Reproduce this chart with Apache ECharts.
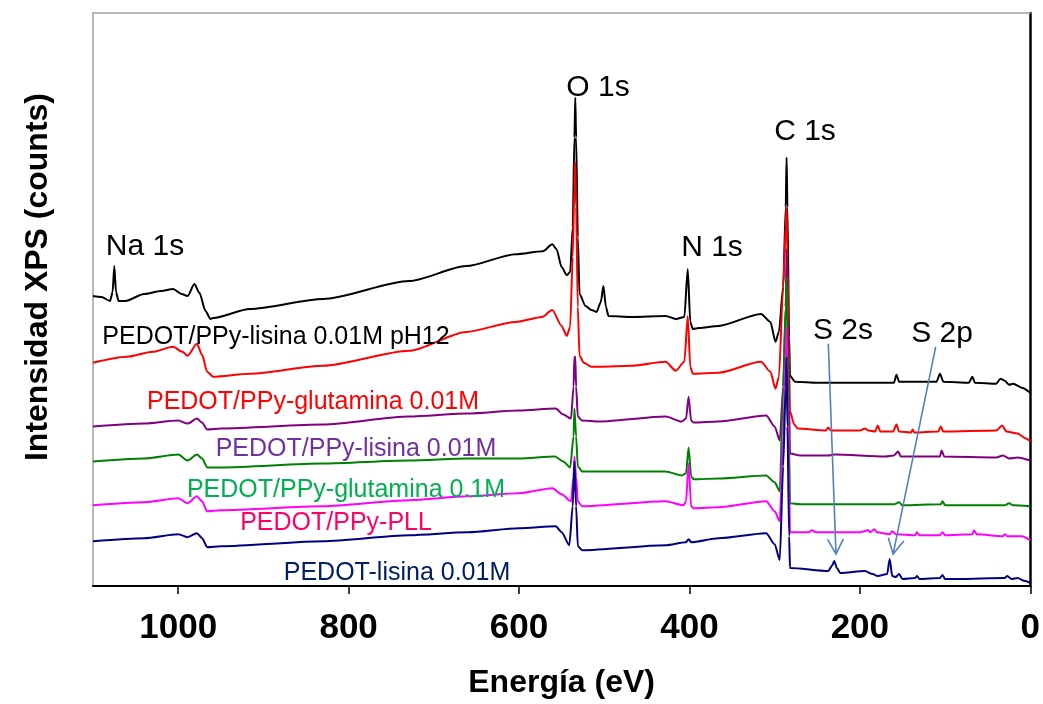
<!DOCTYPE html>
<html>
<head>
<meta charset="utf-8">
<title>XPS survey spectra</title>
<script src="https://cdn.jsdelivr.net/npm/echarts@6/dist/echarts.min.js"></script>
<style>
  html, body { margin: 0; padding: 0; background: #fff; }
  #chart { width: 1043px; height: 704px; }
</style>
</head>
<body>
<div id="chart"></div>
<script>
// Binding energy ticks (eV)
const energyTicks = [0, 200, 400, 600, 800, 1000];

// Survey spectra: [binding energy (eV), intensity (kcounts, stacked offset)]
const pedotPpyLisinaPh12 = [
  [1100, 29.1], [1090, 29.0], [1080, 28.6], [1077, 29.5], [1075, 32.1], [1073, 29.5], [1070, 28.6],
  [1062, 28.6], [1040, 29.3], [1020, 29.6], [1006, 29.8], [996, 29.3], [989, 29.1], [981, 30.3],
  [975, 29.4], [968, 27.6], [962, 26.8], [959, 26.9], [916, 27.8], [830, 28.8], [729, 30.6],
  [662, 32.1], [604, 33.3], [572, 33.6], [561, 34.3], [556, 33.8], [550, 32.0], [544, 31.2],
  [540, 31.5], [537, 36.0], [535, 45.0], [534, 49.0], [533, 45.0], [531, 35.0], [529, 29.3],
  [522, 28.1], [515, 27.7], [509, 27.5], [504, 28.5], [501, 30.1], [498, 28.0], [495, 27.1],
  [468, 27.0], [428, 27.1], [416, 26.8], [406, 27.0], [402, 31.8], [399, 26.5], [396, 25.8],
  [389, 25.9], [366, 26.1], [316, 27.3], [305, 26.5], [299, 24.5], [295, 25.5], [290, 30.0],
  [287, 38.0], [286, 43.0], [285, 38.0], [283, 25.0], [282, 21.1], [276, 20.5], [250, 20.4],
  [200, 20.4], [160, 20.4], [157, 21.2], [154, 20.5], [110, 20.5], [106, 21.3], [102, 20.5],
  [72, 20.4], [68, 21.0], [65, 20.4], [40, 20.3], [35, 20.8], [30, 20.6], [25, 20.2],
  [20, 20.3], [10, 19.9], [0, 19.4]
];
const pedotPpyGlutamina001 = [
  [1100, 22.4], [1060, 23.0], [1030, 23.5], [1006, 24.0], [995, 23.5], [989, 23.1], [978, 24.3],
  [972, 23.2], [966, 21.5], [959, 21.0], [916, 21.3], [830, 22.1], [729, 23.6], [662, 25.5],
  [604, 26.5], [573, 27.0], [561, 27.7], [550, 26.1], [544, 25.1], [540, 26.0], [537, 33.0],
  [535, 40.0], [534, 42.5], [533, 38.0], [531, 28.0], [529, 23.1], [524, 22.4], [515, 22.0],
  [506, 22.0], [468, 22.1], [428, 22.5], [416, 21.6], [406, 22.5], [402, 27.1], [399, 22.0],
  [396, 21.3], [366, 21.4], [316, 22.5], [305, 21.5], [299, 19.8], [295, 21.0], [290, 30.0],
  [287, 36.0], [286, 38.0], [285, 33.0], [283, 22.0], [282, 17.5], [277, 16.2], [273, 15.8],
  [240, 15.6], [237, 15.9], [234, 15.6], [200, 15.6], [194, 15.8], [190, 15.6], [182, 15.5],
  [179, 16.1], [176, 15.5], [161, 15.5], [157, 16.2], [154, 15.5], [140, 15.4], [138, 15.7],
  [136, 15.4], [108, 15.5], [105, 16.0], [102, 15.5], [40, 15.6], [33, 16.1], [28, 15.5],
  [15, 15.3], [5, 14.8], [0, 14.5]
];
const pedotPpyLisina001 = [
  [1100, 16.0], [1040, 16.3], [1000, 16.6], [989, 16.3], [978, 16.8], [972, 16.4], [966, 15.7],
  [950, 15.8], [830, 16.2], [729, 17.0], [660, 17.3], [600, 17.6], [557, 17.8], [548, 17.2],
  [539, 16.8], [536, 20.0], [535, 23.0], [534, 23.0], [533, 20.0], [531, 17.0], [526, 16.6],
  [506, 16.5], [428, 17.0], [409, 16.5], [404, 16.8], [401, 19.0], [398, 16.6], [395, 16.4],
  [366, 16.5], [310, 17.1], [300, 16.0], [294, 14.6], [290, 20.0], [287, 28.0], [286, 33.8],
  [285, 28.0], [283, 18.0], [282, 13.3], [270, 13.1], [237, 13.1], [230, 13.2], [170, 13.0],
  [160, 13.1], [155, 13.5], [152, 13.0], [106, 13.0], [104, 13.6], [101, 13.0], [40, 12.9],
  [32, 13.1], [25, 12.8], [15, 12.9], [0, 12.6]
];
const pedotPpyGlutamina01 = [
  [1100, 12.5], [1040, 12.8], [1000, 13.2], [989, 12.6], [978, 13.2], [972, 12.8], [966, 11.9],
  [950, 11.9], [830, 12.3], [729, 12.6], [660, 12.8], [600, 12.8], [558, 13.0], [548, 12.5],
  [540, 11.9], [536, 15.0], [535, 17.8], [533, 15.0], [531, 12.0], [526, 11.5], [428, 11.5],
  [409, 11.1], [404, 11.3], [401, 13.9], [398, 11.0], [395, 10.7], [366, 10.8], [310, 11.1],
  [300, 10.4], [294, 9.5], [290, 20.0], [287, 28.0], [286, 31.0], [285, 25.0], [283, 14.0],
  [282, 8.3], [270, 8.2], [160, 8.2], [154, 8.4], [150, 8.1], [105, 8.2], [103, 8.5],
  [100, 8.1], [30, 8.1], [25, 8.3], [20, 8.1], [0, 8.0]
];
const pedotPpyPll = [
  [1100, 8.1], [1040, 8.4], [1000, 8.8], [989, 8.3], [978, 9.0], [972, 8.5], [966, 7.5],
  [950, 7.6], [830, 8.0], [729, 8.6], [660, 9.0], [600, 9.3], [561, 9.8], [550, 9.2],
  [539, 8.5], [536, 11.0], [535, 13.0], [533, 11.0], [531, 8.5], [526, 8.0], [428, 8.5],
  [407, 8.1], [404, 8.5], [401, 12.3], [398, 8.0], [395, 7.8], [366, 7.9], [310, 8.5],
  [300, 7.5], [294, 6.5], [290, 15.0], [287, 23.0], [286, 26.0], [285, 20.0], [283, 10.0],
  [282, 5.4], [260, 5.4], [256, 5.6], [252, 5.4], [200, 5.4], [190, 5.6], [188, 5.4],
  [183, 5.7], [180, 5.4], [165, 5.2], [162, 5.5], [158, 5.2], [135, 5.1], [133, 5.4],
  [130, 5.1], [106, 5.1], [103, 5.4], [100, 5.1], [68, 5.2], [66, 5.6], [63, 5.2],
  [32, 5.0], [30, 5.2], [27, 5.0], [10, 5.0], [0, 4.6]
];
const pedotLisina001 = [
  [1100, 4.5], [1040, 4.8], [1000, 5.2], [989, 4.9], [978, 5.3], [972, 4.8], [966, 3.9],
  [950, 4.0], [830, 4.5], [729, 5.1], [660, 5.4], [600, 5.8], [557, 6.0], [550, 5.4],
  [541, 4.1], [537, 8.0], [535, 12.5], [533, 8.0], [531, 4.0], [526, 3.6], [428, 4.1],
  [404, 4.4], [401, 4.7], [398, 4.4], [366, 4.8], [310, 5.3], [300, 4.2], [294, 2.6],
  [290, 12.0], [287, 20.0], [286, 23.0], [285, 16.0], [283, 5.0], [282, 1.8], [237, 1.5],
  [233, 2.0], [230, 2.5], [227, 1.8], [223, 1.3], [194, 1.5], [185, 1.2], [179, 1.0],
  [168, 1.2], [165, 2.7], [162, 1.0], [158, 0.9], [154, 1.2], [150, 0.7], [135, 0.8],
  [133, 1.0], [130, 0.7], [106, 0.8], [103, 1.1], [100, 0.7], [85, 0.7], [30, 0.8],
  [27, 1.0], [22, 0.7], [15, 0.8], [6, 0.5], [0, 0.3]
];

const sampleNames = [
  'PEDOT/PPy-lisina 0.01M pH12',
  'PEDOT/PPy-glutamina 0.01M',
  'PEDOT/PPy-lisina 0.01M',
  'PEDOT/PPy-glutamina 0.1M',
  'PEDOT/PPy-PLL',
  'PEDOT-lisina 0.01M'
];
const sampleData = [
  pedotPpyLisinaPh12, pedotPpyGlutamina001, pedotPpyLisina001,
  pedotPpyGlutamina01, pedotPpyPll, pedotLisina001
];

// Core-level assignments
const peakNames = ['Na 1s', 'O 1s', 'N 1s', 'C 1s', 'S 2s', 'S 2p'];
// Sulfur arrows: [from eV, from intensity, to eV, to intensity]
const sulfurArrows = [
  [237, 24.3, 228, 3.2],
  [111, 24.0, 161, 3.2]
];

const lineColors = ['#000000', '#ff0000', '#800080', '#008000', '#ff00ff', '#000080'];
const labelColors = ['#000000', '#ff0000', '#7030a0', '#00b050', '#ff0066', '#002060'];
const sampleLabelPos = [[276, 337], [313, 402], [356, 449], [346, 490], [336, 523], [397, 573]];
const peakLabelPos = [[145, 247], [598, 88], [712, 248], [805, 132], [843, 331], [942, 334]];

const FONT = '"Liberation Sans", Arial, Helvetica, sans-serif';

const chart = echarts.init(document.getElementById('chart'), null, { renderer: 'canvas' });

const lineSeries = sampleData.map((d, i) => ({
  name: sampleNames[i],
  type: 'line',
  data: d,
  showSymbol: false,
  symbol: 'none',
  smooth: 0.25,
  smoothMonotone: 'x',
  lineStyle: { color: lineColors[i], width: 2 },
  z: 2 + i,
  silent: true
}));

// Open-headed arrows pointing at the sulfur peaks
const arrowSeries = {
  type: 'custom',
  data: sulfurArrows,
  silent: true,
  clip: false,
  z: 20,
  encode: { x: [0, 2], y: [1, 3] },
  renderItem: function (params, api) {
    const p0 = api.coord([api.value(0), api.value(1)]);
    const p1 = api.coord([api.value(2), api.value(3)]);
    const ang = Math.atan2(p1[1] - p0[1], p1[0] - p0[0]);
    const len = 17, spread = Math.PI / 6.5;
    const w1 = [p1[0] - len * Math.cos(ang - spread), p1[1] - len * Math.sin(ang - spread)];
    const w2 = [p1[0] - len * Math.cos(ang + spread), p1[1] - len * Math.sin(ang + spread)];
    const st = { stroke: '#4f81bd', lineWidth: 1.6, fill: null };
    return {
      type: 'group',
      children: [
        { type: 'line', shape: { x1: p0[0], y1: p0[1], x2: p1[0], y2: p1[1] }, style: st },
        { type: 'polyline', shape: { points: [w1, p1, w2] }, style: st }
      ]
    };
  }
};

const graphics = [];
sampleNames.forEach((n, i) => {
  graphics.push({
    type: 'text', x: sampleLabelPos[i][0], y: sampleLabelPos[i][1], z: 30,
    style: { text: n, fill: labelColors[i], font: '25px ' + FONT, textAlign: 'center', textVerticalAlign: 'middle' }
  });
});
peakNames.forEach((n, i) => {
  graphics.push({
    type: 'text', x: peakLabelPos[i][0], y: peakLabelPos[i][1], z: 30,
    style: { text: n, fill: '#000', font: '30px ' + FONT, textAlign: 'center', textVerticalAlign: 'middle' }
  });
});
// Vertical axis title
graphics.push({
  type: 'text', x: 38, y: 277, rotation: Math.PI / 2, z: 30,
  style: { text: 'Intensidad XPS (counts)', fill: '#000', font: 'bold 32px ' + FONT, textAlign: 'center', textVerticalAlign: 'middle' }
});

chart.setOption({
  animation: false,
  backgroundColor: '#ffffff',
  grid: { left: 93, right: 11, top: 13, bottom: 116, containLabel: false },
  xAxis: [
    {
      type: 'value', min: 0, max: 1100, inverse: true, interval: 200,
      name: 'Energía (eV)', nameLocation: 'middle', nameGap: 81,
      nameTextStyle: { fontFamily: FONT, fontWeight: 'bold', fontSize: 32, color: '#000' },
      axisLine: { show: true, onZero: false, lineStyle: { color: '#000', width: 2 } },
      axisTick: { show: true, inside: false, length: 8, lineStyle: { color: '#000', width: 1.5 }, customValues: energyTicks },
      axisLabel: {
        show: true, margin: 25, fontFamily: FONT, fontWeight: 'bold', fontSize: 35, color: '#000',
        customValues: energyTicks, formatter: v => String(v)
      },
      splitLine: { show: false }
    },
    {
      type: 'value', min: 0, max: 1100, inverse: true, position: 'top',
      axisLine: { show: true, onZero: false, lineStyle: { color: '#a0a0a0', width: 1.5 } },
      axisTick: { show: false }, axisLabel: { show: false }, splitLine: { show: false }
    }
  ],
  yAxis: [
    {
      type: 'value', min: 0, max: 57.5,
      axisLine: { show: true, onZero: false, lineStyle: { color: '#a0a0a0', width: 1.5 } },
      axisTick: { show: false }, axisLabel: { show: false }, splitLine: { show: false }
    },
    {
      type: 'value', min: 0, max: 57.5, position: 'right',
      axisLine: { show: true, onZero: false, lineStyle: { color: '#000', width: 2.5 } },
      axisTick: { show: false }, axisLabel: { show: false }, splitLine: { show: false }
    }
  ],
  series: lineSeries.concat([arrowSeries]),
  graphic: graphics
});
</script>
</body>
</html>
